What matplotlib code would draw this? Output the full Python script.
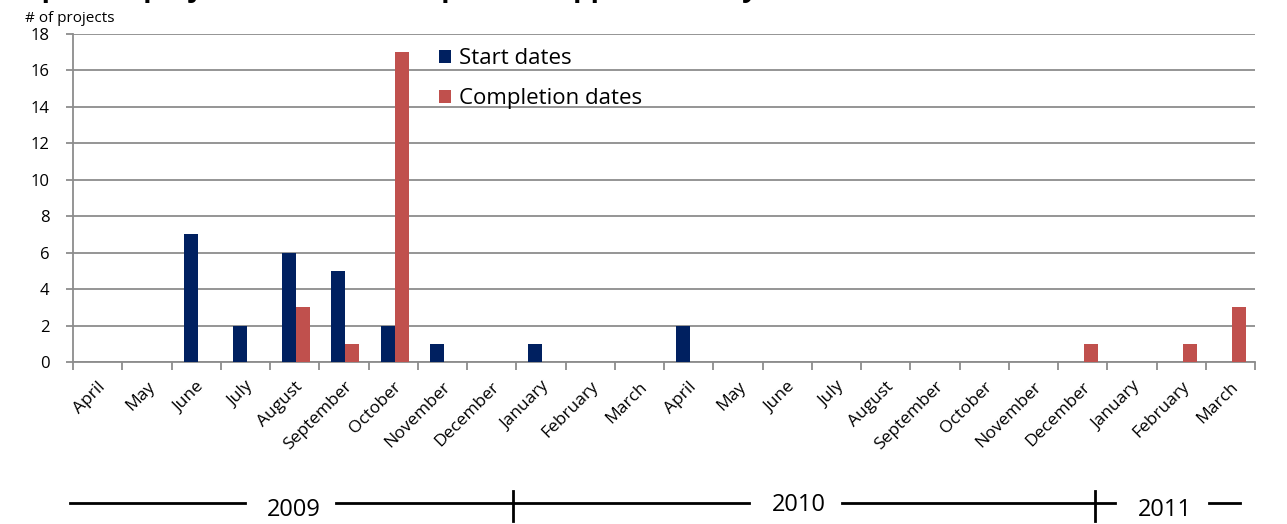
import numpy as np
import matplotlib.pyplot as plt

plt.rcParams['font.family'] = ['Open Sans', 'DejaVu Sans']

# DATA

months = ["April", "May", "June", "July", "August", "September", "October",
          "November", "December", "January", "February", "March",
          "April", "May", "June", "July", "August", "September", "October",
          "November", "December", "January", "February", "March"]

start_dates = [0, 0, 7, 2, 6, 5, 2, 1, 0, 1, 0, 0,
               2, 0, 0, 0, 0, 0, 0, 0, 0, 0, 0, 0]

completion_dates = [0, 0, 0, 0, 3, 1, 17, 0, 0, 0, 0, 0,
                    0, 0, 0, 0, 0, 0, 0, 0, 1, 0, 1, 3]

years = ["2009", "2010", "2011"]

navy = "#002060"
red = "#C0504D"
grey = "#8c8c8c"

# FIGURE

fig = plt.figure(figsize=(12.87, 5.24), dpi=100)
ax = fig.add_axes([73 / 1287, 1 - 362 / 524, (1255 - 73) / 1287, (362 - 34) / 524])

x = np.arange(len(months))
w = 0.285
shift = 0.03

ax.bar(x + shift - w / 2, start_dates, w, color=navy, label="Start dates", zorder=3)
ax.bar(x + shift + w / 2, completion_dates, w, color=red, label="Completion dates", zorder=3)

ax.set_xlim(-0.5, len(months) - 0.5)
ax.set_ylim(0, 18)
ax.set_yticks(range(0, 19, 2))
ax.yaxis.grid(True, color=grey, linewidth=1.3, zorder=0)
ax.tick_params(axis="y", length=5, color=grey, width=1.3, labelsize=12, pad=12)

# category ticks on the boundaries, month names in between
ax.set_xticks(np.arange(len(months) + 1) - 0.5)
ax.set_xticklabels([])
ax.set_xticks(x, minor=True)
ax.set_xticklabels(months, minor=True, rotation=45, ha="right", va="top",
                   rotation_mode="anchor", fontsize=12.5)
ax.tick_params(axis="x", which="major", length=6, color=grey, width=1.3)
ax.tick_params(axis="x", which="minor", length=0, pad=12)

for side in ["top", "right"]:
    ax.spines[side].set_visible(False)
for side in ["left", "bottom"]:
    ax.spines[side].set_color(grey)
    ax.spines[side].set_linewidth(1.3)

ax.legend(loc="upper left", bbox_to_anchor=(0.2925, 1.017), frameon=False,
          fontsize=16, handlelength=0.55, handleheight=0.55,
          handletextpad=0.35, labelspacing=0.85)

# axis caption and title (cut off by the top edge, as in the source)
fig.text(25 / 1287, 1 - 19 / 524, "# of projects", fontsize=11, va="center")
fig.text(10 / 1287, 1 + 4 / 524, "Expected project start and completion (approximately)",
         fontsize=20, fontweight="bold", va="baseline")

# year timeline under the month labels
tr = ax.get_xaxis_transform()
yl = -0.430
lk = dict(color="black", linewidth=2, transform=tr, clip_on=False)
ax.plot([-0.56, 2.99], [yl, yl], **lk)
ax.plot([4.85, 13.23], [yl, yl], **lk)
ax.plot([15.11, 20.66], [yl, yl], **lk)
ax.plot([22.57, 23.2], [yl, yl], **lk)
ax.plot([8.43, 8.43], [-0.393, -0.485], **lk)
ax.plot([20.25, 20.25], [-0.393, -0.485], **lk)
for xp, yb, yr in zip([3.99, 14.24, 21.67], [-0.4695, -0.454, -0.4695], years):
    ax.text(xp, yb, yr, transform=tr, ha="center", va="baseline", fontsize=17)

fig.savefig("out.png", dpi=100)
